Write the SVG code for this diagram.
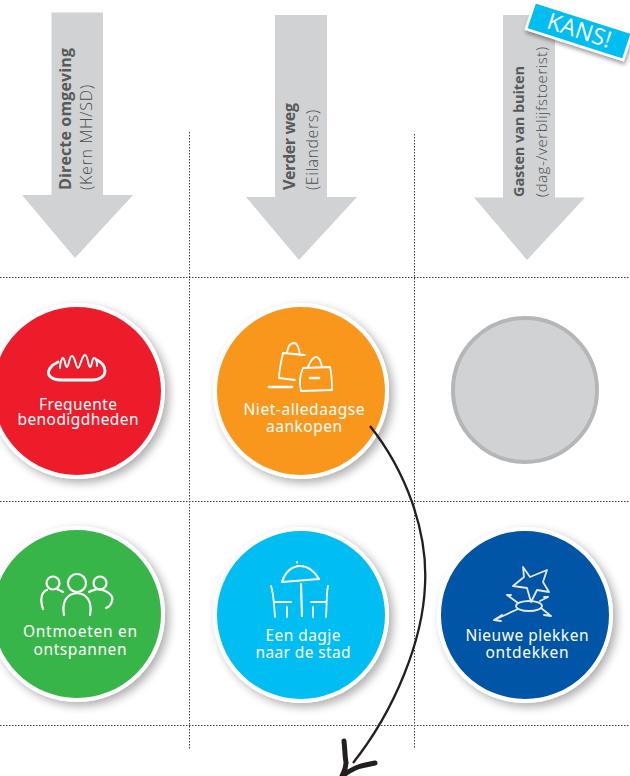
<svg xmlns="http://www.w3.org/2000/svg" width="630" height="776" viewBox="0 0 630 776">
<defs>
<filter id="sh" x="-20%" y="-20%" width="150%" height="150%"><feGaussianBlur in="SourceAlpha" stdDeviation="5"/><feOffset dx="4" dy="4"/><feComponentTransfer><feFuncA type="linear" slope="0.32"/></feComponentTransfer><feMerge><feMergeNode/><feMergeNode in="SourceGraphic"/></feMerge></filter>
<filter id="sh2" x="-20%" y="-30%" width="140%" height="170%"><feGaussianBlur in="SourceAlpha" stdDeviation="2"/><feOffset dx="1" dy="3"/><feComponentTransfer><feFuncA type="linear" slope="0.4"/></feComponentTransfer><feMerge><feMergeNode/><feMergeNode in="SourceGraphic"/></feMerge></filter>
</defs>
<style>
.grid{stroke:#3c3c3c;stroke-width:1;stroke-dasharray:1.5 1.5;fill:none}
.arrow{fill:#d0d2d3}
.disc{stroke:#fff;stroke-width:4;filter:url(#sh)}
.ic{fill:none;stroke:#fff;stroke-width:1.8;stroke-linecap:round;stroke-linejoin:round}
.lb{font-family:"Noto Sans","Open Sans",sans-serif;font-size:15.5px;font-weight:400;fill:#fff;text-anchor:middle}
.hb{font-family:"Open Sans","Noto Sans",sans-serif;font-size:16px;font-weight:700;fill:#58595b}
.hr{font-family:"Open Sans","Noto Sans",sans-serif;font-size:16px;font-weight:300;fill:#4d4d4f}
</style>
<g id="grid">
<path class="grid" d="M0 277.500H630M0 501.500H630M0 725.500H630M189.500 132V750M414.500 134V748"/>
</g>
<g id="col1">
<path class="arrow" d="M51.500 12.500H103V195H133L75 258L22 195H51.500Z"/>
<text class="hb" transform="translate(71 190) rotate(-90)" textLength="142">Directe omgeving</text>
<text class="hr" transform="translate(92 190) rotate(-90)" textLength="105">(Kern MH/SD)</text>
</g>
<g id="col2">
<path class="arrow" d="M275 15H327V197H357L299 260L246 197H275Z"/>
<text class="hb" transform="translate(295 190) rotate(-90)" textLength="87">Verder weg</text>
<text class="hr" transform="translate(318 190) rotate(-90)" textLength="80">(Eilanders)</text>
</g>
<g id="col3">
<path class="arrow" d="M503 15H555V197.500H585L527 260L474 197.500H503Z"/>
<text class="hb" transform="translate(524 197) rotate(-90)" textLength="131" style="font-size:14.5px">Gasten van buiten</text>
<text class="hr" transform="translate(547 197) rotate(-90)" textLength="150" style="font-size:15px">(dag-/verblijfstoerist)</text>
</g>
<g id="kans">
<path d="M535 2L632 33L623 60L526 29Z" fill="#00bdf2" stroke="#fff" stroke-width="2.500" filter="url(#sh2)"/>
<text transform="translate(577 38) rotate(18)" font-family="'Open Sans','Noto Sans',sans-serif" font-size="23" font-weight="400" fill="#fff" text-anchor="middle" textLength="66">KANS!</text>
</g>
<g id="frequente">
<circle class="disc" cx="77" cy="391" r="86" fill="#ed1f29"/>
<path class="ic" style="stroke-width:2.800" d="M58 362C51 365 47 371 49 375C51 379 56 380 62 380H92C100 380 105 376 105 371C105 366 101 362 97 360"/>
<path class="ic" style="stroke-width:2" d="M60 368C60 362 62 358 63 358C65 358 65 367 67 367C69 367 69 356 72 356C75 356 76 368 78 368C80 368 82 355 85 355C88 355 88 367 90 367C92 367 92 358 94 358C96 358 97 362 97 366"/>
<text class="lb" x="78" y="410" textLength="78">Frequente</text>
<text class="lb" x="78" y="425" textLength="121">benodigdheden</text>
</g>
<g id="niet-alledaagse">
<circle class="disc" cx="301" cy="391" r="86" fill="#f8971d"/>
<path class="ic" d="M305 355L283 353C281 362 279 370 279 378L295 380M287 353C288 345 291 343 294 343C297 343 299 348 300 355"/>
<path class="ic" style="stroke-width:2.600" d="M269 387H292"/>
<path class="ic" d="M303 368L330 367C332 375 332 382 332 390L301 391C299 383 300 375 303 368ZM308 367C311 360 314 357 316 357C319 357 321 362 322 367"/>
<path class="ic" style="stroke-width:2.600" d="M310 378H319"/>
<text class="lb" x="304" y="415" textLength="121">Niet-alledaagse</text>
<text class="lb" x="304" y="432" textLength="76">aankopen</text>
</g>
<g id="kans-leeg">
<circle cx="525" cy="390" r="72" fill="#d0d2d3" stroke="#b4b6b8" stroke-width="4"/>
</g>
<g id="ontmoeten">
<circle class="disc" cx="77" cy="614" r="86" fill="#39b54a"/>
<g class="ic" style="stroke-width:2.200">
<circle cx="77" cy="583" r="9"/><circle cx="53" cy="583" r="6.500"/><circle cx="100" cy="583" r="6.500"/>
<path d="M64 615C62 604 65 594 77 593C89 594 92 604 90 615M43 609C40 600 41 592 47 590M57 589L63 592M89 592C92 590 95 590 97 589C108 590 114 596 112 601C111 605 109 607 106 608"/>
</g>
<text class="lb" x="80" y="637" textLength="114">Ontmoeten en</text>
<text class="lb" x="80" y="655" textLength="93">ontspannen</text>
</g>
<g id="dagje">
<circle class="disc" cx="301" cy="615" r="86" fill="#00bdf2"/>
<g class="ic">
<path style="stroke-width:2.200" d="M282 582C285 572 292 566 300 566C308 566 315 572 319 579C307 580 294 581 282 582Z"/>
<path style="stroke-width:2.200" d="M297 562V562.500M301 584L302 616"/>
<path d="M271 586C274 595 274 606 275 617M274 602H291M287 607V617M328 586C326 595 327 606 326 617M311 602H326M313 607V617"/>
</g>
<text class="lb" x="303" y="641" textLength="75">Een dagje</text>
<text class="lb" x="303" y="658" textLength="95">naar de stad</text>
</g>
<g id="nieuwe">
<circle class="disc" cx="525" cy="615" r="86" fill="#0054a6"/>
<g class="ic" style="stroke:#e6e7e8">
<path d="M523 567L530 577L547 570L543 582L549 592L537 590L531 602L527 588L513 586L524 577Z"/>
<ellipse cx="529" cy="606" rx="13" ry="5"/>
<path d="M518 609L494 620M494 620L502 615M494 620L501 621M518 603L507 595M507 595L511 595M541 608L551 616M551 616L544 615M540 601L548 597M548 597L544 597"/>
</g>
<text class="lb" x="527" y="641" textLength="123">Nieuwe plekken</text>
<text class="lb" x="527" y="658" textLength="83">ontdekken</text>
</g>
<g id="connectors">
<path d="M370 426C405 470 428 530 425 585C423 640 395 710 353 763" fill="none" stroke="#231f20" stroke-width="2.300"/>
<path d="M344 741C345 750 345 758 346 762C346 767 344 772 342 776C348 772 352 769 358 767C364 765 370 764 375 763" fill="none" stroke="#231f20" stroke-width="5" stroke-linecap="round" stroke-linejoin="round"/>
</g>
</svg>
